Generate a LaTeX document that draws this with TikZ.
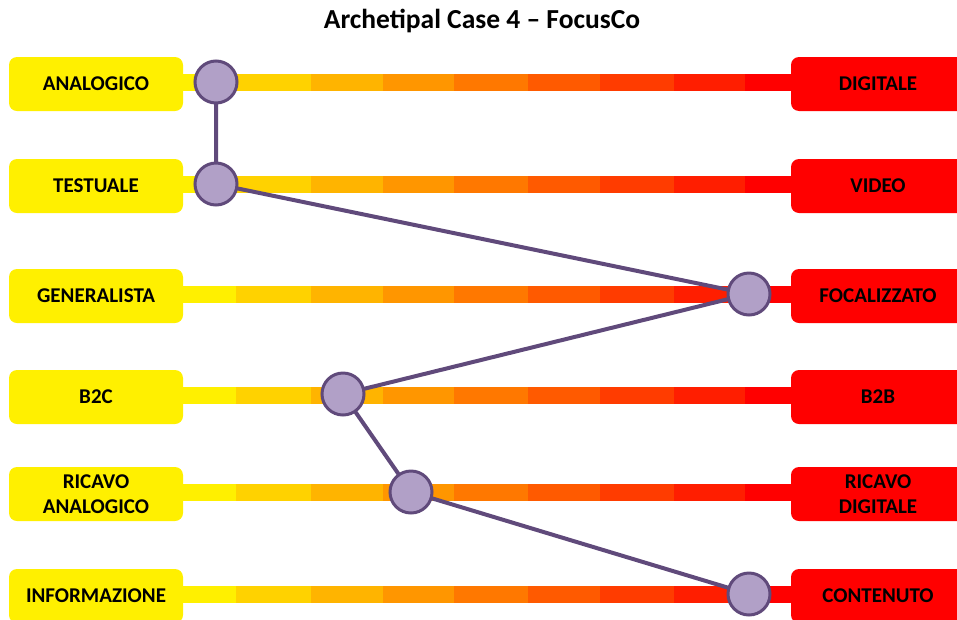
\documentclass[tikz,border=0pt]{standalone}
\usepackage{fontspec}
\setmainfont{Carlito}
\begin{document}
\begin{tikzpicture}[x=1pt,y=-1pt,
  lbox/.style={rectangle, rounded corners=8pt, minimum width=174pt, minimum height=54pt,
    inner sep=0pt, align=center, font=\bfseries\fontsize{21}{24.5}\selectfont, text=black},
  leftbox/.style={lbox, fill=boxyellow},
  rightbox/.style={lbox, fill=boxred},
  dot/.style={circle, minimum size=42pt, inner sep=0pt, fill=dotfill, draw=dotline, line width=3pt},
  link/.style={draw=dotline, line width=4pt},
  title/.style={font=\bfseries\fontsize{27.5}{32}\selectfont, text=black}
]
\definecolor{boxyellow}{HTML}{FFF000}
\definecolor{boxred}{HTML}{FF0000}
\definecolor{dotfill}{HTML}{B1A0C7}
\definecolor{dotline}{HTML}{604A7B}
\definecolor{s0}{HTML}{FFF000}
\definecolor{s1}{HTML}{FFD200}
\definecolor{s2}{HTML}{FFB400}
\definecolor{s3}{HTML}{FF9600}
\definecolor{s4}{HTML}{FF7800}
\definecolor{s5}{HTML}{FF5A00}
\definecolor{s6}{HTML}{FF3C00}
\definecolor{s7}{HTML}{FF1E00}
\definecolor{s8}{HTML}{FF0000}

\useasboundingbox (0,0) rectangle (957,619);
\clip (0,0) rectangle (957,619);

\node[title] (ttl) at (482,21) {Archetipal Case 4 -- FocusCo};

% graded bars, one per row (bar centre y)
\foreach \y in {82,184,294,395,492,594}{
  \foreach \a/\b/\c in {150/236/s0,236/311/s1,311/383/s2,383/454/s3,454/528/s4,
                        528/600/s5,600/674/s6,674/745/s7,745/800/s8}{
    \fill[\c] (\a,\y-8.5) rectangle (\b,\y+8.5);
  }
}

% end labels
\node[leftbox] (l1) at (96,84) {ANALOGICO};
\node[leftbox] (l2) at (96,186) {TESTUALE};
\node[leftbox] (l3) at (96,296) {GENERALISTA};
\node[leftbox] (l4) at (96,397) {B2C};
\node[leftbox] (l5) at (96,494) {RICAVO\\ANALOGICO};
\node[leftbox] (l6) at (96,596) {INFORMAZIONE};

\node[rightbox] (r1) at (878,84) {DIGITALE};
\node[rightbox] (r2) at (878,186) {VIDEO};
\node[rightbox] (r3) at (878,296) {FOCALIZZATO};
\node[rightbox] (r4) at (878,397) {B2B};
\node[rightbox] (r5) at (878,494) {RICAVO\\DIGITALE};
\node[rightbox] (r6) at (878,596) {CONTENUTO};

% profile positions
\coordinate (p1) at (216,82);
\coordinate (p2) at (216,184);
\coordinate (p3) at (749,294);
\coordinate (p4) at (343,394);
\coordinate (p5) at (411,492);
\coordinate (p6) at (749,594);

\draw[link] (p1) -- (p2) -- (p3) -- (p4) -- (p5) -- (p6);

\foreach \i in {1,...,6}{
  \node[dot] (c\i) at (p\i) {};
}
\end{tikzpicture}
\end{document}
